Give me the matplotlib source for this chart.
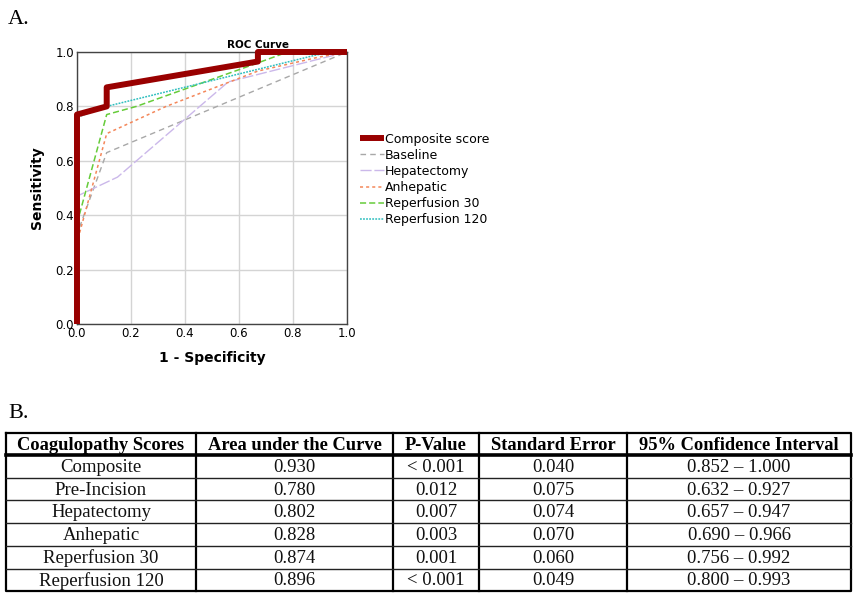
import matplotlib.pyplot as plt

# ROC curve points (1 - specificity, sensitivity)
composite_x = [0.0, 0.0, 0.11, 0.11, 0.67, 0.67, 1.0]
composite_y = [0.0, 0.77, 0.80, 0.87, 0.965, 1.0, 1.0]
baseline_x = [0.0, 0.0, 0.11, 1.0]
baseline_y = [0.0, 0.33, 0.63, 1.0]
hepat_x = [0.0, 0.0, 0.15, 0.56, 1.0]
hepat_y = [0.0, 0.47, 0.54, 0.89, 1.0]
anhep_x = [0.0, 0.0, 0.11, 0.33, 0.67, 0.89, 1.0]
anhep_y = [0.0, 0.30, 0.70, 0.80, 0.93, 0.98, 1.0]
rep30_x = [0.0, 0.0, 0.11, 0.22, 0.67, 0.78, 1.0]
rep30_y = [0.0, 0.37, 0.77, 0.80, 0.96, 1.0, 1.0]
rep120_x = [0.0, 0.0, 0.11, 0.89, 1.0]
rep120_y = [0.0, 0.76, 0.80, 0.99, 1.0]

# table contents
col_headers = ["Coagulopathy Scores", "Area under the Curve", "P-Value",
               "Standard Error", "95% Confidence Interval"]
scores = ["Composite", "Pre-Incision", "Hepatectomy", "Anhepatic",
          "Reperfusion 30", "Reperfusion 120"]
auc = ["0.930", "0.780", "0.802", "0.828", "0.874", "0.896"]
p_values = ["< 0.001", "0.012", "0.007", "0.003", "0.001", "< 0.001"]
std_err = ["0.040", "0.075", "0.074", "0.070", "0.060", "0.049"]
ci = ["0.852 \u2013 1.000", "0.632 \u2013 0.927", "0.657 \u2013 0.947",
      "0.690 \u2013 0.966", "0.756 \u2013 0.992", "0.800 \u2013 0.993"]

W, H = 859, 600
fig = plt.figure(figsize=(W / 100, H / 100), dpi=100)

# ---- panel A: ROC curve
ax = fig.add_axes([77 / W, 1 - 324 / H, 270 / W, 272 / H])
ax.plot(baseline_x, baseline_y, color="#a8a8a8", lw=1, ls=(0, (4, 3)), label="Baseline")
ax.plot(hepat_x, hepat_y, color="#cbb8ea", lw=1, ls=(0, (8, 2)), label="Hepatectomy")
ax.plot(anhep_x, anhep_y, color="#f4875a", lw=1.1, ls=(0, (2, 2)), label="Anhepatic")
ax.plot(rep30_x, rep30_y, color="#66cc3a", lw=1.1, ls=(0, (4, 2)), label="Reperfusion 30")
ax.plot(rep120_x, rep120_y, color="#2fbfbf", lw=1.1, ls=(0, (1.2, 0.8)), label="Reperfusion 120")
ax.plot(composite_x, composite_y, color="#990000", lw=4.3, label="Composite score",
        solid_capstyle="butt", zorder=5, clip_on=False)

ax.set_xlim(0, 1)
ax.set_ylim(0, 1)
ax.set_xticks([0, 0.2, 0.4, 0.6, 0.8, 1.0])
ax.set_yticks([0, 0.2, 0.4, 0.6, 0.8, 1.0])
ax.grid(True, color="#d4d4d4", lw=1)
ax.set_axisbelow(True)
ax.tick_params(length=0, labelsize=8.5, pad=2)
for s in ax.spines.values():
    s.set_color("#444444")
    s.set_linewidth(1)
ax.set_title("ROC Curve", fontsize=7.5, fontweight="bold", x=0.67, pad=3)
ax.set_xlabel("1 - Specificity", fontsize=10, fontweight="bold", labelpad=8)
ax.set_ylabel("Sensitivity", fontsize=10, fontweight="bold", labelpad=8)

handles, labels = ax.get_legend_handles_labels()
order = [5, 0, 1, 2, 3, 4]
ax.legend([handles[i] for i in order], [labels[i] for i in order],
          loc="upper left", bbox_to_anchor=(1.03, 0.722), frameon=False,
          fontsize=9, handlelength=1.9, handletextpad=0.1, labelspacing=0.25,
          borderaxespad=0)

fig.text(8 / W, 1 - 20 / H, "A.", fontsize=16, family="Liberation Serif", va="center")
fig.text(8 / W, 1 - 414 / H, "B.", fontsize=16, family="Liberation Serif", va="center")

# ---- panel B: table, drawn in pixel space
tx = fig.add_axes([0, 0, 1, 1])
tx.set_xlim(0, W)
tx.set_ylim(H, 0)
tx.axis("off")

col_edges = [6, 196, 393, 479, 627, 851]
top, head_bottom, row_h = 433, 455, 22.7
n_rows = len(scores)
bottom = head_bottom + row_h * n_rows

# outer frame and column lines
tx.plot([col_edges[0], col_edges[-1], col_edges[-1], col_edges[0], col_edges[0]],
        [top, top, bottom, bottom, top], color="black", lw=1.6)
for x in col_edges[1:-1]:
    tx.plot([x, x], [top, bottom], color="black", lw=1.6)
tx.plot([col_edges[0], col_edges[-1]], [head_bottom, head_bottom], color="black", lw=2.6)
for i in range(1, n_rows):
    y = head_bottom + row_h * i
    tx.plot([col_edges[0], col_edges[-1]], [y, y], color="#222222", lw=1)

centers = [(col_edges[i] + col_edges[i + 1]) / 2 for i in range(len(col_edges) - 1)]
for c, h in zip(centers, col_headers):
    tx.text(c, (top + head_bottom) / 2 + 1, h, ha="center", va="center",
            fontsize=13.3, fontweight="bold", family="Liberation Serif")

columns = [scores, auc, p_values, std_err, ci]
for j, col in enumerate(columns):
    for i, val in enumerate(col):
        y = head_bottom + row_h * (i + 0.5) + 1
        tx.text(centers[j], y, val, ha="center", va="center", fontsize=13.5,
                family="Liberation Serif", color="#111111")

fig.savefig("out.png", dpi=100)
